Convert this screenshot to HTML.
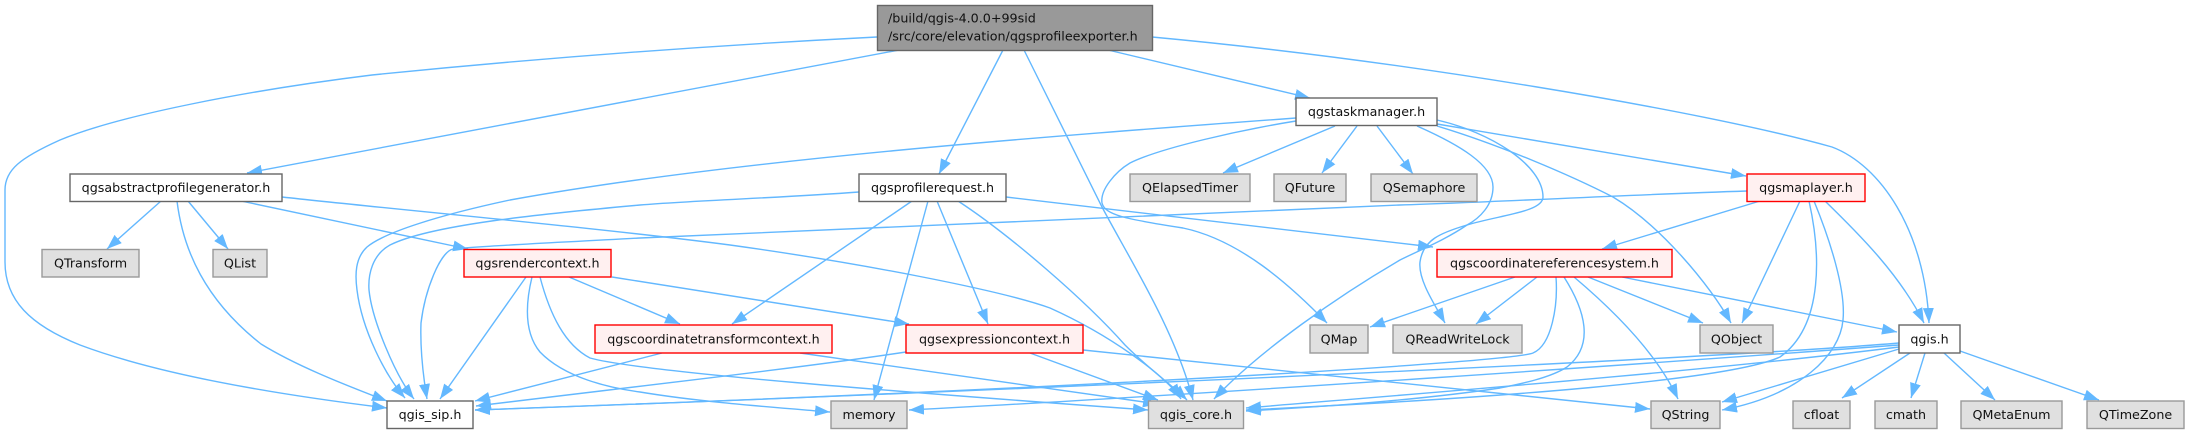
<!DOCTYPE html>
<html><head><meta charset="utf-8">
<style>
html,body{margin:0;padding:0;background:#fff;width:2189px;height:434px;overflow:hidden}
svg{display:block}
.e{fill:none;stroke:#63b8ff;stroke-width:1.4;marker-end:url(#a)}
rect{stroke-width:1.4}
.w{fill:#fff;stroke:#666}
.g{fill:#e0e0e0;stroke:#999}
.r{fill:#fff0f0;stroke:#f00}
text{font-family:"DejaVu Sans","Liberation Sans",sans-serif;font-size:12.7px;fill:#111;text-anchor:middle}
</style></head><body>
<svg width="2189" height="434" viewBox="0 0 2189 434" xmlns="http://www.w3.org/2000/svg">
<defs><marker id="a" markerUnits="userSpaceOnUse" markerWidth="17" markerHeight="13" refX="15" refY="5.5" orient="auto"><path d="M0,0L15,5.5L0,11Z" fill="#63b8ff"/></marker></defs>
<g>
<path class="e" d="M877,37C700,46 520,60 372,75C250,90 120,115 60,140C20,158 5,170 5,190L5,262C5,300 30,325 80,345C160,375 280,395 387,408"/>
<path class="e" d="M899,50L247,173"/>
<path class="e" d="M1003,50L939,174"/>
<path class="e" d="M1024,50L1102,207C1130,260 1175,330 1193,400"/>
<path class="e" d="M1108,50L1310,98"/>
<path class="e" d="M1152,37C1400,60 1700,110 1832,147C1880,165 1925,230 1929,323"/>
<path class="e" d="M161,201L107,249"/>
<path class="e" d="M188,201L228,249"/>
<path class="e" d="M177,201C183,250 205,300 261,344C295,365 340,383 387,401"/>
<path class="e" d="M241,201L468,249"/>
<path class="e" d="M282,197C400,210 600,228 730,245C860,263 1000,290 1050,308C1110,335 1165,375 1181,399"/>
<path class="e" d="M859,192C780,198 700,200 640,205C540,214 430,225 390,245C372,255 368,275 369,290C372,320 395,375 414,399"/>
<path class="e" d="M912,201L732,324"/>
<path class="e" d="M928,201L874,400"/>
<path class="e" d="M937,201L988,324"/>
<path class="e" d="M958,201C1010,235 1085,300 1125,345C1150,370 1172,385 1187,400"/>
<path class="e" d="M1006,197L1433,247"/>
<path class="e" d="M1296,118C1050,136 730,160 510,200C440,215 385,232 367,247C355,258 355,275 357,290C362,330 385,375 405,398"/>
<path class="e" d="M1296,121C1240,130 1160,148 1130,163C1115,172 1100,190 1102,203C1105,215 1125,219 1183,228C1240,240 1290,285 1327,323"/>
<path class="e" d="M1335,126L1223,173"/>
<path class="e" d="M1357,126L1322,173"/>
<path class="e" d="M1377,126L1413,174"/>
<path class="e" d="M1437,124L1746,176"/>
<path class="e" d="M1437,126C1500,145 1570,175 1613,197C1660,225 1710,285 1731,323"/>
<path class="e" d="M1437,120C1490,132 1543,165 1543,197C1543,212 1500,215 1467,225C1440,233 1423,240 1420,262C1418,280 1435,305 1445,323"/>
<path class="e" d="M1417,126C1460,145 1493,165 1493,187C1493,205 1480,218 1467,225C1445,240 1420,250 1400,260C1340,295 1260,350 1214,399"/>
<path class="e" d="M526,277L440,399"/>
<path class="e" d="M569,277L680,324"/>
<path class="e" d="M612,277L909,324"/>
<path class="e" d="M532,277C524,310 526,335 540,352C565,378 610,388 640,392C700,402 770,407 830,412"/>
<path class="e" d="M540,277C550,315 565,345 590,358C640,372 900,392 1148,410"/>
<path class="e" d="M662,353L475,401"/>
<path class="e" d="M800,353L1158,404"/>
<path class="e" d="M906,352C800,368 640,386 476,406"/>
<path class="e" d="M1030,353L1158,400"/>
<path class="e" d="M1083,350C1250,368 1450,388 1650,409"/>
<path class="e" d="M1515,277L1370,327"/>
<path class="e" d="M1537,277L1476,324"/>
<path class="e" d="M1556,277C1558,305 1552,345 1533,353C1510,362 1100,388 475,410"/>
<path class="e" d="M1564,277C1585,310 1595,345 1567,367C1550,378 1520,384 1500,388C1420,400 1320,407 1246,411"/>
<path class="e" d="M1574,277C1625,320 1660,360 1678,399"/>
<path class="e" d="M1588,277L1703,323"/>
<path class="e" d="M1622,277L1897,332"/>
<path class="e" d="M1760,201L1602,249"/>
<path class="e" d="M1800,201L1742,323"/>
<path class="e" d="M1809,201C1820,250 1825,325 1780,357C1730,380 1500,398 1246,410"/>
<path class="e" d="M1814,201C1830,240 1846,290 1843,320C1840,355 1800,395 1722,410"/>
<path class="e" d="M1825,201C1860,235 1900,275 1924,323"/>
<path class="e" d="M1747,191C1620,195 1500,202 1400,205C1100,218 750,233 640,238C550,243 480,246 453,249C440,252 425,290 421,323C420,350 423,375 427,399"/>
<path class="e" d="M1899,343C1700,360 900,395 475,410"/>
<path class="e" d="M1899,345C1700,360 1200,395 909,410"/>
<path class="e" d="M1899,347C1700,372 1400,395 1246,408"/>
<path class="e" d="M1899,349L1722,402"/>
<path class="e" d="M1910,353L1842,398"/>
<path class="e" d="M1925,353L1911,398"/>
<path class="e" d="M1944,353L1995,400"/>
<path class="e" d="M1960,351L2099,400"/>
</g>
<g>
<rect x="877.5" y="5.5" width="275" height="45" fill="#999" stroke="#666"/>
<text x="888" y="22.5" style="text-anchor:start">/build/qgis-4.0.0+99sid</text>
<text x="888" y="40.5" style="text-anchor:start">/src/core/elevation/qgsprofileexporter.h</text>

<rect class="w" x="70" y="174" width="212" height="27.5"/><text x="176" y="192">qgsabstractprofilegenerator.h</text>
<rect class="w" x="859" y="174" width="147" height="27.5"/><text x="932.5" y="192">qgsprofilerequest.h</text>
<rect class="w" x="1296" y="98" width="141" height="27.5"/><text x="1366.5" y="116">qgstaskmanager.h</text>
<rect class="g" x="1130" y="174" width="120" height="27.5"/><text x="1190" y="192">QElapsedTimer</text>
<rect class="g" x="1274" y="174" width="72" height="27.5"/><text x="1310" y="192">QFuture</text>
<rect class="g" x="1371" y="174" width="106" height="27.5"/><text x="1424" y="192">QSemaphore</text>
<rect class="r" x="1747" y="174" width="118" height="27.5"/><text x="1806" y="192">qgsmaplayer.h</text>

<rect class="g" x="42" y="249.5" width="97" height="27.5"/><text x="90.5" y="267.5">QTransform</text>
<rect class="g" x="213" y="249.5" width="54" height="27.5"/><text x="240" y="267.5">QList</text>
<rect class="r" x="464" y="249.5" width="147" height="27.5"/><text x="537.5" y="267.5">qgsrendercontext.h</text>
<rect class="r" x="1437" y="249.5" width="235" height="27.5"/><text x="1554.5" y="267.5">qgscoordinatereferencesystem.h</text>

<rect class="r" x="595" y="325" width="237" height="28"/><text x="713.5" y="343.5">qgscoordinatetransformcontext.h</text>
<rect class="r" x="906" y="325" width="177" height="28"/><text x="994.5" y="343.5">qgsexpressioncontext.h</text>
<rect class="g" x="1310" y="325" width="58" height="28"/><text x="1339" y="343.5">QMap</text>
<rect class="g" x="1393" y="325" width="129" height="28"/><text x="1457.5" y="343.5">QReadWriteLock</text>
<rect class="g" x="1700" y="325" width="73" height="28"/><text x="1736.5" y="343.5">QObject</text>
<rect class="w" x="1899" y="325" width="61" height="28"/><text x="1929.5" y="343.5">qgis.h</text>

<rect class="w" x="387" y="401" width="86" height="27.5"/><text x="430" y="419">qgis_sip.h</text>
<rect class="g" x="831" y="401" width="76" height="27.5"/><text x="869" y="419">memory</text>
<rect class="g" x="1148.5" y="401" width="95" height="27.5"/><text x="1196" y="419">qgis_core.h</text>
<rect class="g" x="1651" y="401" width="69" height="27.5"/><text x="1685.5" y="419">QString</text>
<rect class="g" x="1793" y="401" width="57" height="27.5"/><text x="1821.5" y="419">cfloat</text>
<rect class="g" x="1875" y="401" width="62" height="27.5"/><text x="1906" y="419">cmath</text>
<rect class="g" x="1961" y="401" width="101" height="27.5"/><text x="2011.5" y="419">QMetaEnum</text>
<rect class="g" x="2087" y="401" width="97" height="27.5"/><text x="2135.5" y="419">QTimeZone</text>
</g>
</svg>
</body></html>
